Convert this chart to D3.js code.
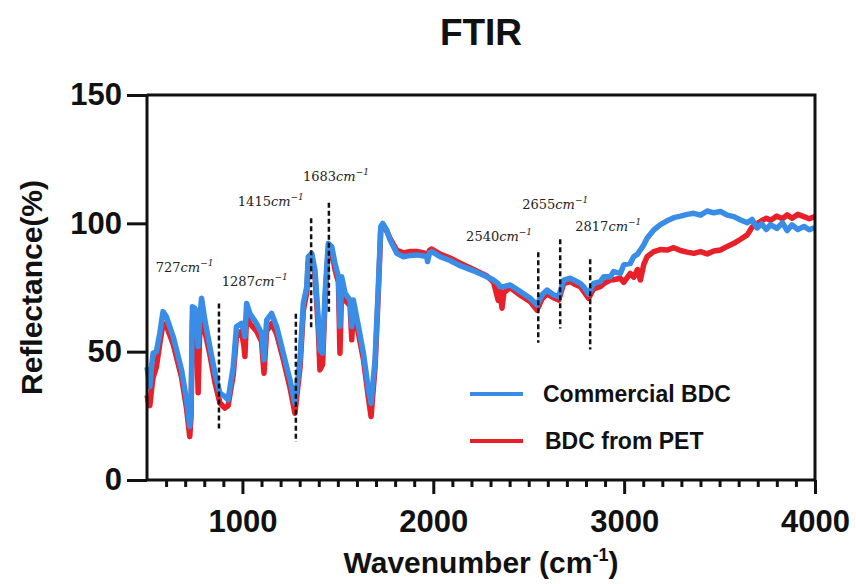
<!DOCTYPE html>
<html>
<head>
<meta charset="utf-8">
<script src="https://cdn.jsdelivr.net/npm/d3@7/dist/d3.min.js"></script>
<style>
  body { margin: 0; background: #fff; }
  text { font-family: "Liberation Sans", Arial, sans-serif; }
</style>
</head>
<body>
<div class="canvas"></div>
<script>
// spectrum (wavenumber in cm-1, reflectance in %)
const wavenumber = [
  500, 508, 515, 525, 532, 549, 567, 584, 602, 637, 681, 707, 724, 731, 738, 751, 760, 768, 775, 786,
  803, 829, 856, 882, 908, 925, 952, 969, 995, 1008, 1013, 1022, 1039, 1074, 1100, 1113, 1127, 1153, 1179, 1214,
  1249, 1275, 1302, 1319, 1337, 1345, 1363, 1380, 1398, 1406, 1420, 1433, 1450, 1468, 1485, 1503, 1511, 1520, 1538, 1564,
  1573, 1581, 1608, 1634, 1660, 1674, 1695, 1712, 1725, 1735, 1756, 1774, 1809, 1844, 1880, 1914, 1950, 1966, 1970, 1980,
  1992, 2036, 2088, 2141, 2211, 2281, 2316, 2340, 2350, 2360, 2370, 2403, 2456, 2508, 2543, 2569, 2596, 2631, 2657, 2683,
  2717, 2736, 2770, 2788, 2814, 2840, 2875, 2893, 2927, 2945, 2980, 2998, 3032, 3050, 3070, 3085, 3103, 3120, 3155, 3190,
  3225, 3260, 3295, 3330, 3365, 3400, 3435, 3470, 3505, 3540, 3575, 3610, 3645, 3670, 3697, 3720, 3745, 3767, 3800, 3830,
  3854, 3880, 3910, 3942, 3970, 4000
];
const commercialBDC = [
  44, 40, 36.4, 45, 49.4, 50, 57.2, 65.6, 63.6, 55.9, 42.9, 31.2, 20.8, 30, 67.5, 66.9, 62, 52, 62, 70.8,
  62.3, 52, 41.6, 33.8, 32.5, 31.2, 44.2, 59.8, 61, 58, 55.9, 68.8, 64.9, 61, 57.2, 46.8, 62.3, 64.9, 59.8, 49.4,
  39, 29.9, 46.8, 68.8, 75.3, 87, 88.3, 81.8, 62.3, 50.7, 49.4, 72.7, 92.2, 90.9, 84.4, 79.2, 59.8, 79.2, 72.7, 70.1,
  59.8, 70.1, 59.8, 49.4, 35.1, 29.9, 46.8, 75.3, 98.7, 100, 97.4, 93.5, 88.3, 87, 87.5, 87.7, 87.3, 87, 85.1, 88.5,
  89, 87, 85.5, 83.5, 81.5, 79.2, 77.9, 76.5, 75.3, 75.3, 75.3, 76, 73.4, 70.8, 68.2, 72.1, 74, 72.1, 71.4, 77.9,
  78.6, 77.9, 76.6, 75.3, 72.4, 76.6, 77.3, 79.2, 79.2, 81.2, 80.5, 83.8, 84.4, 87, 88, 89.6, 91.6, 94.2, 97.4, 99.5,
  101, 102.2, 102.8, 103.5, 103.9, 103.2, 104.8, 104.1, 104.6, 103.2, 102.6, 101.3, 100.2, 101.5, 98.2, 99.8, 97.6, 99.5, 98, 100.2,
  97.2, 99.4, 97.6, 98.8, 97.5, 98.4
];
const bdcFromPET = [
  33, 30, 29, 36, 40, 44, 53, 61, 60, 53, 40, 28, 16.9, 25, 62, 62, 56, 34, 55, 66,
  58, 49, 38, 30, 28, 29, 41, 56, 58, 52, 48.1, 64, 61, 58, 54, 41.6, 58, 61, 57, 47,
  36, 26, 44, 66, 73, 85, 86, 80, 58, 42.9, 45, 70, 90, 89, 82, 77, 49.4, 76, 70, 68,
  54.6, 67, 57, 47, 32, 24.7, 44, 73, 98, 99.5, 97, 94, 89.5, 88.5, 89, 89, 88.5, 88, 86.5, 89.5,
  90, 88, 86.5, 84.5, 82, 79.5, 77, 70, 74, 66.9, 73, 75, 72, 69.5, 66.2, 70.5, 72.5, 71, 70.1, 76.5,
  77.3, 76.5, 75.3, 73.5, 70.8, 74.5, 75.3, 76.5, 77.9, 78, 78.6, 77, 80.5, 79, 82, 77.9, 84, 87, 89, 89.8,
  89.6, 90.5, 89.4, 88.8, 88.3, 89, 88.1, 89.2, 89.6, 91, 92.2, 93.8, 95.5, 98.5, 100, 101, 102, 101.2, 102.8, 101.8,
  103.3, 102, 103.5, 102.6, 101.8, 102.6
];

const peakLabels = ["727", "1287", "1415", "1683", "2540", "2655", "2817"];
const peakLineX = [877, 1280, 1360, 1453, 2550, 2665, 2822];
const peakLineTop = [68.8, 64.8, 102, 108, 88.7, 93.8, 86];
const peakLineBottom = [19.5, 14.8, 59, 64.8, 53.5, 59, 50.8];
const peakLabelX = [546, 892, 976, 1317, 2172, 2466, 2744];
const peakLabelY = [81, 75.6, 106.7, 116.5, 93.1, 105.6, 97];

const seriesNames = ["Commercial BDC", "BDC from PET"];
const seriesColors = ["#3a8de6", "#e8202a"];
const xMajorTicks = [1000, 2000, 3000, 4000];
const yTicks = [0, 50, 100, 150];

const totalWidth = 856;
const totalHeight = 584;
const margin = { top: 95, right: 41, bottom: 104, left: 147 };
const graphWidth = totalWidth - margin.left - margin.right;
const graphHeight = totalHeight - margin.top - margin.bottom;

const svg = d3.select(".canvas")
  .append("svg")
  .attr("width", totalWidth)
  .attr("height", totalHeight);

const graph = svg.append("g")
  .attr("transform", `translate(${margin.left},${margin.top})`);

const x = d3.scaleLinear().domain([500, 4000]).range([0, graphWidth]);
const y = d3.scaleLinear().domain([0, 150]).range([graphHeight, 0]);

// spectra (red under blue)
const rows = wavenumber.map((w, i) => ({ w, blue: commercialBDC[i], red: bdcFromPET[i] }));
const lineRed = d3.line().x(d => x(d.w)).y(d => y(d.red));
const lineBlue = d3.line().x(d => x(d.w)).y(d => y(d.blue));

graph.append("path").datum(rows)
  .attr("fill", "none").attr("stroke", seriesColors[1])
  .attr("stroke-width", 5.5).attr("stroke-linejoin", "round")
  .attr("d", lineRed);
graph.append("path").datum(rows)
  .attr("fill", "none").attr("stroke", seriesColors[0])
  .attr("stroke-width", 5.5).attr("stroke-linejoin", "round")
  .attr("d", lineBlue);

// peak markers
const peaks = peakLabels.map((label, i) => ({
  label, lx: peakLineX[i], top: peakLineTop[i], bottom: peakLineBottom[i], tx: peakLabelX[i], ty: peakLabelY[i]
}));

graph.selectAll(".peak-line").data(peaks).enter()
  .append("line")
  .attr("class", "peak-line")
  .attr("x1", d => x(d.lx)).attr("x2", d => x(d.lx))
  .attr("y1", d => y(d.top)).attr("y2", d => y(d.bottom))
  .attr("stroke", "#111").attr("stroke-width", 2.5).attr("stroke-dasharray", "5,3");

const peakText = graph.selectAll(".peak-label").data(peaks).enter()
  .append("text")
  .attr("class", "peak-label")
  .attr("x", d => x(d.tx)).attr("y", d => y(d.ty))
  .style("font-family", "'DejaVu Serif', serif")
  .style("font-size", "13px")
  .attr("fill", "#222");
peakText.append("tspan").text(d => d.label);
peakText.append("tspan").style("font-style", "italic").text("cm");
peakText.append("tspan").style("font-style", "italic").style("font-size", "9px")
  .attr("dy", -6).text("\u22121");

// axes
const xAxisGroup = graph.append("g").attr("transform", `translate(0,${graphHeight})`);
xAxisGroup.call(d3.axisBottom(x).tickValues(xMajorTicks).tickSize(14).tickPadding(16).tickFormat(d3.format("d")));
const minorTicks = d3.range(600, 4000, 100).filter(v => v % 1000 !== 0);
const xMinorGroup = graph.append("g").attr("transform", `translate(0,${graphHeight})`);
xMinorGroup.call(d3.axisBottom(x).tickValues(minorTicks).tickSize(7).tickFormat(""));
xMinorGroup.select(".domain").remove();

const yAxisGroup = graph.append("g");
yAxisGroup.call(d3.axisLeft(y).tickValues(yTicks).tickSize(20).tickPadding(5));

[xAxisGroup, xMinorGroup, yAxisGroup].forEach(g => {
  g.selectAll("line").attr("stroke", "#111").attr("stroke-width", 3);
  g.select(".domain").attr("stroke", "#111").attr("stroke-width", 3);
  g.selectAll("text").attr("fill", "#111")
    .style("font-family", "'Liberation Sans', Arial, sans-serif")
    .style("font-size", "31px").style("font-weight", "bold");
});
xAxisGroup.select(".domain").attr("d", `M0,0H${graphWidth}`);
yAxisGroup.select(".domain").attr("d", `M0,0V${graphHeight}`);

// top and right frame
graph.append("path")
  .attr("d", `M0,0H${graphWidth}V${graphHeight}`)
  .attr("fill", "none").attr("stroke", "#111").attr("stroke-width", 3);

// legend
const legend = svg.append("g").attr("transform", "translate(470,394)");
seriesNames.forEach((name, i) => {
  const row = legend.append("g").attr("transform", `translate(0,${i * 47})`);
  row.append("line").attr("x1", 0).attr("x2", 53).attr("y1", 0).attr("y2", 0)
    .attr("stroke", seriesColors[i]).attr("stroke-width", 4);
  row.append("text").attr("x", 73 + i * 2).attr("y", 8)
    .style("font-size", "23px").style("font-weight", "bold").attr("fill", "#111")
    .text(name);
});

// titles
svg.append("text")
  .attr("x", margin.left + graphWidth / 2).attr("y", 45)
  .attr("text-anchor", "middle")
  .style("font-size", "37px").style("font-weight", "bold").attr("fill", "#111")
  .text("FTIR");

svg.append("text")
  .attr("transform", `translate(42,${margin.top + graphHeight / 2}) rotate(-90)`)
  .attr("text-anchor", "middle")
  .style("font-size", "30px").style("font-weight", "bold").attr("fill", "#111")
  .text("Reflectance(%)");

const xLabel = svg.append("text")
  .attr("x", margin.left + graphWidth / 2).attr("y", 573)
  .attr("text-anchor", "middle")
  .style("font-size", "30px").style("font-weight", "bold").attr("fill", "#111");
xLabel.append("tspan").text("Wavenumber (cm");
xLabel.append("tspan").style("font-size", "18px").attr("dy", -12).text("-1");
xLabel.append("tspan").attr("dy", 12).text(")");
</script>
</body>
</html>
